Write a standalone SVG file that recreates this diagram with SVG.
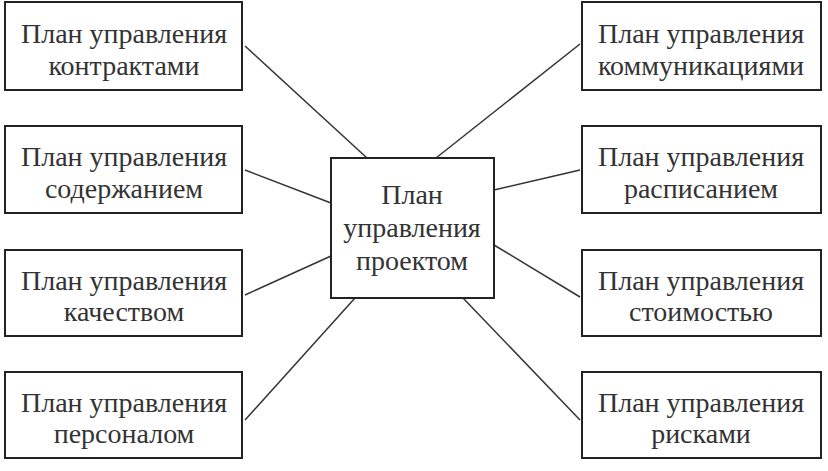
<svg xmlns="http://www.w3.org/2000/svg" width="828" height="471" viewBox="0 0 828 471">
<style>
rect{fill:#fff;stroke:#222;stroke-width:2}
text{font-family:"Liberation Serif","DejaVu Serif",serif;font-size:28px;fill:#333;text-anchor:middle}
#connectors line{stroke:#333;stroke-width:1.5}
</style>
<rect x="0" y="0" width="828" height="471" style="fill:#fff;stroke:none"/>
<g id="connectors">
<line x1="245" y1="46" x2="367" y2="158"/>
<line x1="245" y1="170" x2="331" y2="203"/>
<line x1="245" y1="295" x2="331" y2="256"/>
<line x1="245" y1="420" x2="355" y2="298"/>
<line x1="580" y1="44" x2="436" y2="158"/>
<line x1="580" y1="170" x2="494" y2="190"/>
<line x1="580" y1="297" x2="494" y2="245"/>
<line x1="580" y1="420" x2="463" y2="298"/>
</g>
<g id="center"><rect x="331" y="158" width="163" height="140"/><text x="412" y="204">План</text><text x="412" y="237">управления</text><text x="412" y="270">проектом</text></g>
<g id="n1"><rect x="5" y="2" width="237" height="88"/><text x="124" y="43">План управления</text><text x="124" y="75">контрактами</text></g>
<g id="n2"><rect x="5" y="126" width="237" height="87"/><text x="124" y="166">План управления</text><text x="124" y="198">содержанием</text></g>
<g id="n3"><rect x="5" y="250" width="237" height="86"/><text x="124" y="290">План управления</text><text x="124" y="321">качеством</text></g>
<g id="n4"><rect x="5" y="372" width="237" height="86"/><text x="124" y="412">План управления</text><text x="124" y="443">персоналом</text></g>
<g id="n5"><rect x="582" y="2" width="239" height="88"/><text x="701" y="43">План управления</text><text x="701" y="75">коммуникациями</text></g>
<g id="n6"><rect x="582" y="126" width="239" height="87"/><text x="701" y="166">План управления</text><text x="701" y="198">расписанием</text></g>
<g id="n7"><rect x="582" y="250" width="239" height="86"/><text x="701" y="290">План управления</text><text x="701" y="321">стоимостью</text></g>
<g id="n8"><rect x="582" y="372" width="239" height="86"/><text x="701" y="412">План управления</text><text x="701" y="443">рисками</text></g>
</svg>
